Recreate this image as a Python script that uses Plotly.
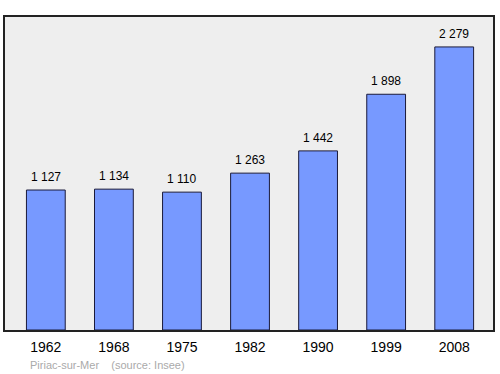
import plotly.graph_objects as go

years = ["1962", "1968", "1975", "1982", "1990", "1999", "2008"]
population = [1127, 1134, 1110, 1263, 1442, 1898, 2279]
labels = ["1 127", "1 134", "1 110", "1 263", "1 442", "1 898", "2 279"]

FONT = "Liberation Sans, Arial, sans-serif"

fig = go.Figure()
fig.add_trace(go.Bar(
    x=list(range(len(years))), y=population,
    width=0.57,
    marker=dict(color="#7799ff", line=dict(color="#1a1a3a", width=1)),
))
for i, (v, t) in enumerate(zip(population, labels)):
    fig.add_annotation(x=i, y=v, text=t, showarrow=False, yanchor="bottom",
                       yshift=4, font=dict(family=FONT, size=12, color="#000000"))
fig.update_layout(
    width=500, height=374,
    margin=dict(l=5, r=5, t=17, b=44),
    paper_bgcolor="white", plot_bgcolor="#eeeeee",
    showlegend=False,
    xaxis=dict(range=[-0.6, 6.57], tickmode="array", tickvals=list(range(len(years))),
               ticktext=years, showgrid=False, zeroline=False,
               ticks="outside", ticklen=3, tickcolor="rgba(0,0,0,0)",
               tickfont=dict(family=FONT, size=14, color="#000000"),
               showline=True, linecolor="#222222", linewidth=1.5, mirror=True),
    yaxis=dict(range=[0, 2520], showgrid=False, zeroline=False, showticklabels=False, ticks="",
               showline=True, linecolor="#222222", linewidth=1.5, mirror=True),
)
fig.add_annotation(
    x=(28 - 5) / 490, y=(330 - 365) / 313, xref="paper", yref="paper",
    xanchor="left", yanchor="middle",
    text="Piriac-sur-Mer&nbsp;&nbsp;&nbsp;&nbsp;(source: Insee)", showarrow=False,
    font=dict(family=FONT, size=11, color="#aaaaaa"),
)
fig.write_html("out.html")
